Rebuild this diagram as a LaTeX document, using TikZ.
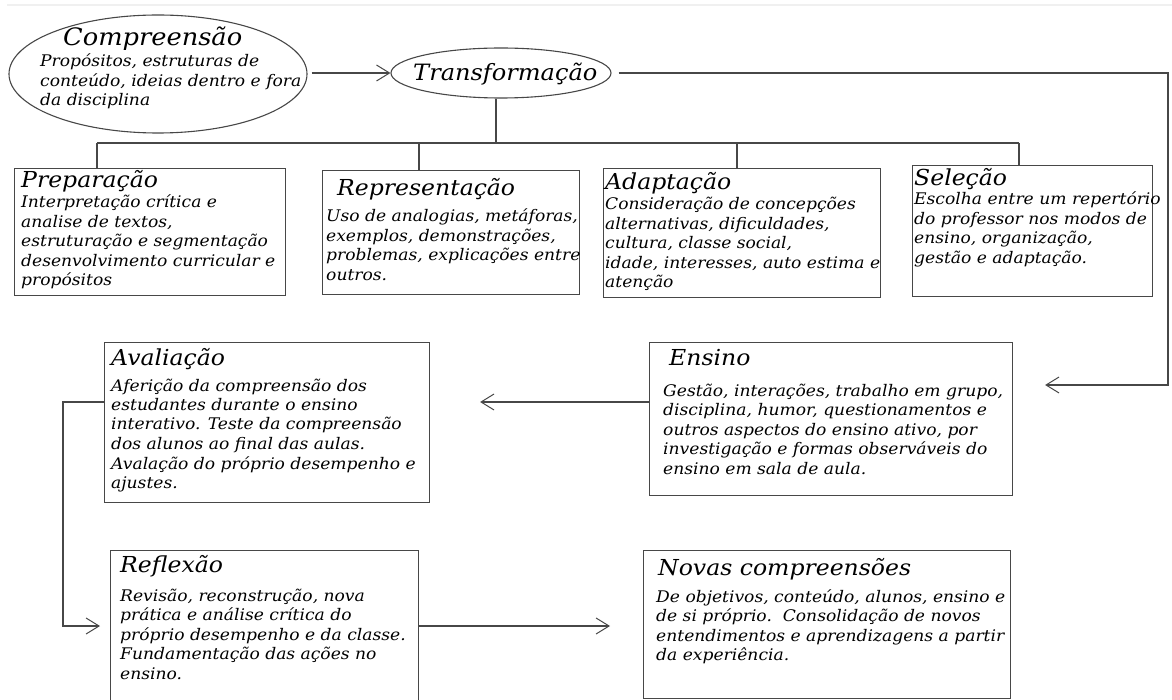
\documentclass[tikz,border=0pt]{standalone}
\usepackage{fontspec}
\setmainfont{DejaVu Serif}
\newfontfamily\hand[FakeStretch=1.07]{DejaVu Serif}
\usetikzlibrary{arrows.meta,shapes.geometric}
\newcommand\bodylines[1]{\begin{minipage}[t]{420pt}\hand\fontsize{16}{19.5}\selectfont\itshape #1\end{minipage}}
\begin{document}
\begin{tikzpicture}[x=1pt,y=-1pt,
  ln/.style={draw=black!72, line width=1.1pt},
  arr/.style={ln, -{Straight Barb[length=13pt,width=16pt,line width=1pt]}},
  box/.style={ln, rectangle, inner sep=0pt, anchor=north west},
  ttl/.style={anchor=base west, inner sep=0pt, font=\hand\fontsize{22}{26}\selectfont\itshape},
  txt/.style={anchor=base west, inner sep=0pt},
]
\useasboundingbox (0,0) rectangle (1172,700);
\clip (0,0) rectangle (1172,700);
\draw[black!6, line width=2pt] (7,5) -- (1172,5);

% ellipses
\node[ellipse, ln, minimum width=298pt, minimum height=118pt, inner sep=0pt] (comp) at (158,74) {};
\node[ttl, font=\hand\fontsize{24}{28}\selectfont\itshape] (compT) at (63,46) {Compreensão};
\node[txt] (compB) at (40,67) {\bodylines{Propósitos, estruturas de\\conteúdo, ideias dentro e fora\\da disciplina}};
\node[ellipse, ln, minimum width=220pt, minimum height=50pt, inner sep=0pt] (trans) at (501,73) {};
\node[ttl, font=\hand\fontsize{22.5}{26}\selectfont\itshape] (transT) at (413,81) {Transformação};

% boxes row 1
\node[box, minimum width=271pt, minimum height=127pt] (prep) at (14,168) {};
\node[ttl] (prepT) at (21,188) {Preparação};
\node[txt] (prepB) at (21,208) {\bodylines{Interpretação crítica e\\analise de textos,\\estruturação e segmentação\\desenvolvimento curricular e\\propósitos}};

\node[box, minimum width=257pt, minimum height=124pt] (repr) at (322,170) {};
\node[ttl] (reprT) at (337,196) {Representação};
\node[txt] (reprB) at (326,222) {\bodylines{Uso de analogias, metáforas,\\exemplos, demonstrações,\\problemas, explicações entre\\outros.}};

\node[box, minimum width=277pt, minimum height=129pt] (adapt) at (603,168) {};
\node[ttl] (adaptT) at (605,190) {Adaptação};
\node[txt] (adaptB) at (605,210) {\bodylines{Consideração de concepções\\alternativas, dificuldades,\\cultura, classe social,\\idade, interesses, auto estima e\\atenção}};

\node[box, minimum width=240pt, minimum height=131pt] (sel) at (912,165) {};
\node[ttl] (selT) at (914,186) {Seleção};
\node[txt] (selB) at (914,205) {\bodylines{Escolha entre um repertório\\do professor nos modos de\\ensino, organização,\\gestão e adaptação.}};

% row 2
\node[box, minimum width=325pt, minimum height=160pt] (aval) at (104,342) {};
\node[ttl] (avalT) at (111,366) {Avaliação};
\node[txt] (avalB) at (111,391) {\bodylines{Aferição da compreensão dos\\estudantes durante o ensino\\interativo. Teste da compreensão\\dos alunos ao final das aulas.\\Avalação do próprio desempenho e\\ajustes.}};

\node[box, minimum width=363pt, minimum height=153pt] (ens) at (649,342) {};
\node[ttl] (ensT) at (669,366) {Ensino};
\node[txt] (ensB) at (663,396) {\bodylines{Gestão, interações, trabalho em grupo,\\disciplina, humor, questionamentos e\\outros aspectos do ensino ativo, por\\investigação e formas observáveis do\\ensino em sala de aula.}};

% row 3
\node[box, minimum width=308pt, minimum height=170pt] (refl) at (110,550) {};
\node[ttl] (reflT) at (120,572) {Reflexão};
\node[txt] (reflB) at (120,601) {\bodylines{Revisão, reconstrução, nova\\prática e análise crítica do\\próprio desempenho e da classe.\\Fundamentação das ações no\\ensino.}};

\node[box, minimum width=367pt, minimum height=148pt] (nov) at (643,550) {};
\node[ttl] (novT) at (658,575) {Novas compreensões};
\node[txt] (novB) at (656,602) {\bodylines{De objetivos, conteúdo, alunos, ensino e\\de si próprio.\ \ Consolidação de novos\\entendimentos e aprendizagens a partir\\da experiência.}};

% connectors
\draw[arr, shorten <=4pt] (comp.east |- trans.west) -- (trans.west);
\coordinate (t0) at (496,143);
\draw[ln] (trans.south -| t0) -- (t0);
\coordinate (bL) at (97,143);
\coordinate (b2) at (419,143);
\coordinate (b3) at (737,143);
\coordinate (bR) at (1019,143);
\draw[ln] (bL) -- (bR);
\draw[ln] (bL) -- (bL |- prep.north);
\draw[ln] (b2) -- (b2 |- repr.north);
\draw[ln] (b3) -- (b3 |- adapt.north);
\draw[ln] (bR) -- (bR |- sel.north);

\coordinate (r1) at (1168,73);
\coordinate (r2) at (1168,385);
\draw[arr] ([xshift=7pt]trans.east) -- (r1) -- (r2) -- ([xshift=32pt]ens.east |- r2);
\draw[arr] ([yshift=-60pt]ens.north west) -- ([xshift=50pt,yshift=-60pt]aval.north east);
\draw[arr] ([yshift=-60pt]aval.north west) -- ++(-41pt,0) |- ([xshift=-10pt,yshift=-76pt]refl.north west);
\draw[arr] ([yshift=-76pt]refl.north east) -- ([xshift=-33pt,yshift=-76pt]nov.north west);
\end{tikzpicture}
\end{document}
